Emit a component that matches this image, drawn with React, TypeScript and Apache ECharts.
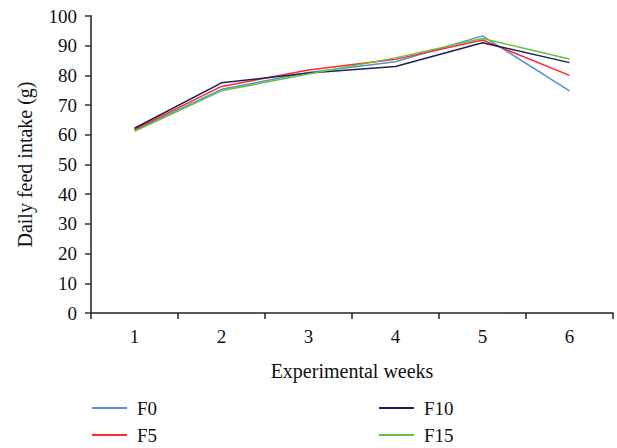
import React, { useEffect, useRef } from "react";
import * as echarts from "echarts";

const weeks = ["1", "2", "3", "4", "5", "6"];
const F0 = [61.5, 75.3, 81.0, 84.6, 93.3, 74.8];
const F5 = [61.8, 76.3, 81.8, 85.4, 91.9, 80.0];
const F10 = [62.2, 77.5, 80.8, 83.0, 91.0, 84.3];
const F15 = [61.2, 74.8, 80.5, 85.9, 92.4, 85.5];
const seriesNames = ["F0", "F5", "F10", "F15"];
const colors = ["#5a8fd6", "#ff2a2a", "#1e1f5e", "#67c23a"];

const FONT = "'Liberation Serif', 'DejaVu Serif', serif";

const legendBase = {
  orient: "vertical",
  top: 398,
  padding: 0,
  icon: "rect",
  itemWidth: 35,
  itemHeight: 2,
  itemGap: 7,
  textStyle: { fontFamily: FONT, fontSize: 19, color: "#111", lineHeight: 20, padding: [0, 0, 0, 5] },
};

export default function App() {
  const ref = useRef<HTMLDivElement>(null);
  useEffect(() => {
    if (!ref.current) return;
    const chart = echarts.init(ref.current, null, { renderer: "svg" });
    const data = [F0, F5, F10, F15];
    chart.setOption({
      animation: false,
      backgroundColor: "#ffffff",
      textStyle: { fontFamily: FONT },
      grid: { left: 91, right: 4, top: 16, bottom: 135, containLabel: false },
      legend: [
        { ...legendBase, data: ["F0", "F5"], left: 92 },
        { ...legendBase, data: ["F10", "F15"], left: 379 },
      ],
      xAxis: {
        type: "category",
        data: weeks,
        boundaryGap: true,
        name: "Experimental weeks",
        nameLocation: "middle",
        nameGap: 48,
        nameTextStyle: { fontFamily: FONT, fontSize: 20, color: "#111" },
        axisLine: { lineStyle: { color: "#222", width: 1.5 } },
        axisTick: { show: true, length: 6, lineStyle: { color: "#222", width: 1.5 } },
        axisLabel: { fontFamily: FONT, fontSize: 19, color: "#111", margin: 14 },
        splitLine: { show: false },
      },
      yAxis: {
        type: "value",
        min: 0,
        max: 100,
        interval: 10,
        name: "Daily feed intake (g)",
        nameLocation: "middle",
        nameGap: 56,
        nameTextStyle: { fontFamily: FONT, fontSize: 20, color: "#111" },
        axisLine: { show: true, lineStyle: { color: "#555", width: 2 } },
        axisTick: { show: true, length: 6, lineStyle: { color: "#333", width: 1.5 } },
        axisLabel: { fontFamily: FONT, fontSize: 19, color: "#111", margin: 14 },
        splitLine: { show: false },
      },
      series: seriesNames.map((n, i) => ({
        name: n,
        type: "line",
        data: data[i],
        symbol: "none",
        color: colors[i],
        itemStyle: { color: colors[i] },
        lineStyle: { color: colors[i], width: 1.5 },
      })),
    });
    return () => chart.dispose();
  }, []);
  return <div ref={ref} style={{ width: 617, height: 448, position: "absolute", left: 0, top: 0 }} />;
}
